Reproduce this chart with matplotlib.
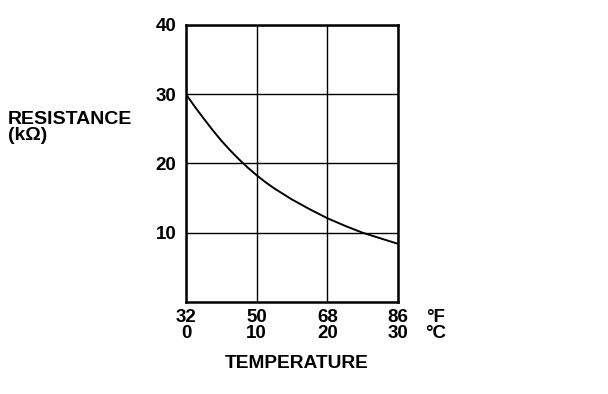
import matplotlib
matplotlib.use("Agg")
import matplotlib.pyplot as plt
import numpy as np

# thermistor curve
temp_c = [0, 1.25, 2.5, 3.75, 5, 6.25, 7.5, 8.75, 10, 11.25, 12.5, 13.75, 15,
          16.25, 17.5, 18.75, 20, 21.25, 22.5, 23.75, 25, 26.25, 27.5, 28.75, 30]
resist = [30.0, 28.2, 26.5, 24.85, 23.3, 21.9, 20.6, 19.4, 18.3, 17.3, 16.4, 15.6, 14.8,
          14.1, 13.4, 12.75, 12.1, 11.55, 11.0, 10.5, 10.0, 9.6, 9.2, 8.8, 8.4]
tick_c = [0, 10, 20, 30]
tick_f = [32, 50, 68, 86]
y_ticks = [10, 20, 30, 40]

plt.rcParams['font.family'] = ['Liberation Sans', 'DejaVu Sans']
plt.rcParams['font.weight'] = 'bold'

fig = plt.figure(figsize=(6.08, 3.94), dpi=100)
W, H = 608, 394
ax = fig.add_axes([186 / W, 1 - 302 / H, 212 / W, 277 / H])

ax.plot(temp_c, resist, color='black', lw=1.4)
ax.set_xlim(0, 30)
ax.set_ylim(0, 40)
ax.set_xticks(tick_c)
ax.set_yticks(y_ticks)
ax.grid(True, color='black', lw=1.0)
for s in ax.spines.values():
    s.set_linewidth(1.8)
ax.tick_params(length=0, labelsize=13.5)
ax.set_yticklabels([str(v) for v in y_ticks], fontweight='bold')
ax.yaxis.set_tick_params(pad=7)
ax.set_xticklabels([])

# two-row temperature labels
fs = 13.5
for c, f in zip(tick_c, tick_f):
    ax.annotate(str(f), (c, 0), xytext=(0, -15), textcoords='offset pixels',
                ha='center', va='center', fontsize=fs, fontweight='bold')
    ax.annotate(str(c), (c, 0), xytext=(0, -32), textcoords='offset pixels',
                ha='center', va='center', fontsize=fs, fontweight='bold')
ax.annotate('°F', (30, 0), xytext=(38, -15), textcoords='offset pixels',
            ha='center', va='center', fontsize=fs, fontweight='bold')
ax.annotate('°C', (30, 0), xytext=(38, -32), textcoords='offset pixels',
            ha='center', va='center', fontsize=fs, fontweight='bold')

fig.text(297 / W, 1 - 363 / H, 'TEMPERATURE', ha='center', va='center',
         fontsize=13.8, fontweight='bold')
fig.text(8 / W, 1 - 119 / H, 'RESISTANCE', ha='left', va='center',
         fontsize=14, fontweight='bold')
fig.text(8 / W, 1 - 135 / H, '(kΩ)', ha='left', va='center',
         fontsize=14, fontweight='bold')

fig.savefig('out.png', dpi=100)
